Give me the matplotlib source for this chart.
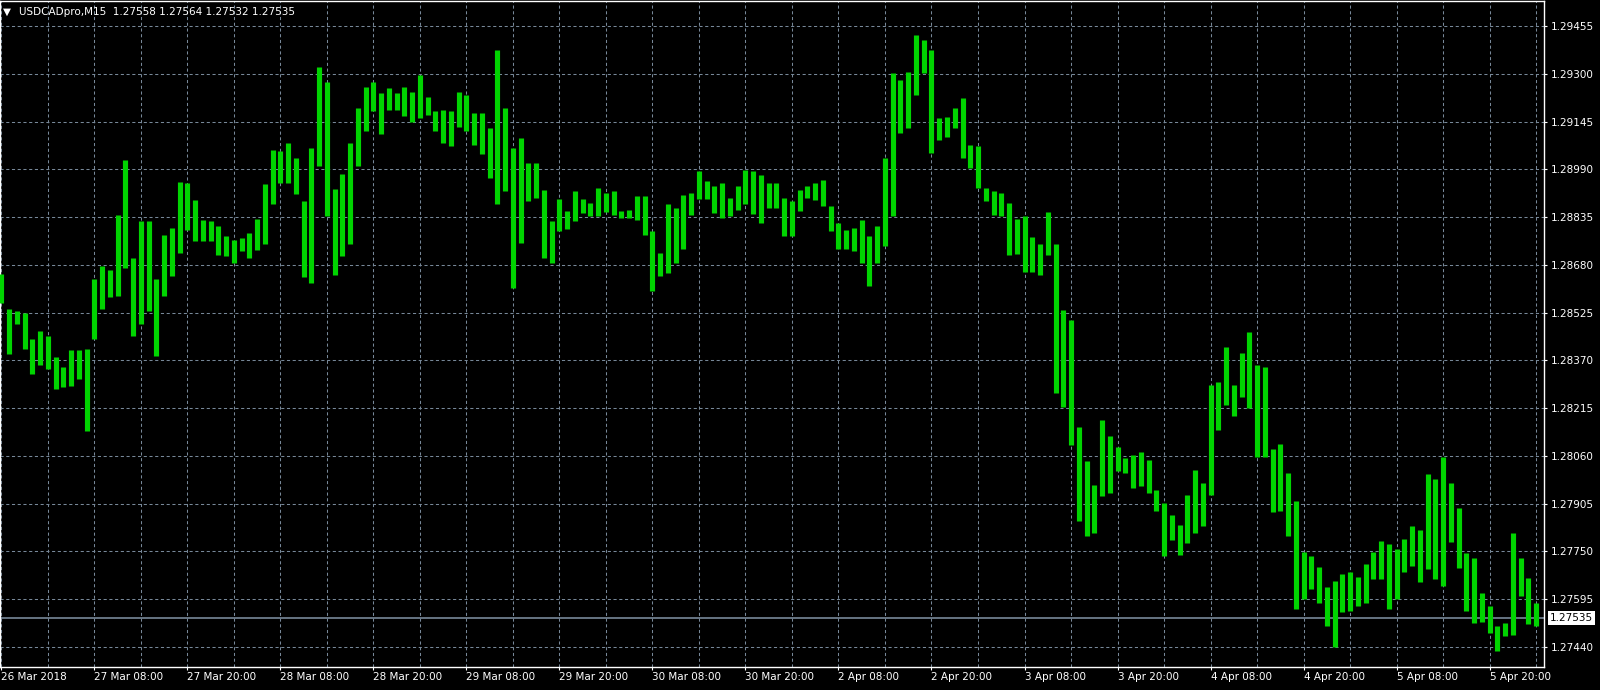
import numpy as np
import matplotlib.pyplot as plt
from matplotlib.transforms import blended_transform_factory


# hourly high / low (one entry per hour, 26 Mar 20:00 -> 5 Apr 22:00)
high = [1.28649, 1.28538, 1.28531, 1.28525, 1.28439, 1.28466, 1.28448, 1.28380, 1.28348, 1.28405,
        1.28405, 1.28407, 1.28633, 1.28676, 1.28663, 1.28843, 1.29020, 1.28703, 1.28821, 1.28821,
        1.28633, 1.28778, 1.28800, 1.28950, 1.28945, 1.28891, 1.28826, 1.28821, 1.28805, 1.28773,
        1.28762, 1.28767, 1.28783, 1.28829, 1.28942, 1.29054, 1.29049, 1.29076, 1.29027, 1.28888,
        1.29060, 1.29323, 1.29274, 1.28926, 1.28974, 1.29076, 1.29188, 1.29258, 1.29274, 1.29237,
        1.29253, 1.29237, 1.29258, 1.29242, 1.29296, 1.29226, 1.29178, 1.29183, 1.29178, 1.29242,
        1.29231, 1.29172, 1.29172, 1.29124, 1.29376, 1.29188, 1.29060, 1.29090, 1.29011, 1.29011,
        1.28924, 1.28822, 1.28892, 1.28854, 1.28919, 1.28892, 1.28881, 1.28930, 1.28913, 1.28919,
        1.28854, 1.28859, 1.28903, 1.28903, 1.28789, 1.28719, 1.28876, 1.28865, 1.28908, 1.28913,
        1.28984, 1.28951, 1.28935, 1.28946, 1.28897, 1.28935, 1.28989, 1.28985, 1.28972, 1.28945,
        1.28945, 1.28897, 1.28886, 1.28924, 1.28935, 1.28945, 1.28956, 1.28870, 1.28816, 1.28794,
        1.28800, 1.28827, 1.28773, 1.28805, 1.29026, 1.29301, 1.29280, 1.29306, 1.29425, 1.29409,
        1.29377, 1.29156, 1.29161, 1.29188, 1.29220, 1.29069, 1.29064, 1.28929, 1.28918, 1.28913,
        1.28881, 1.28830, 1.28840, 1.28770, 1.28749, 1.28851, 1.28749, 1.28533, 1.28500, 1.28155,
        1.28042, 1.27966, 1.28177, 1.28123, 1.28090, 1.28053, 1.28063, 1.28074, 1.28047, 1.27950,
        1.27907, 1.27869, 1.27837, 1.27934, 1.28015, 1.27972, 1.28290, 1.28301, 1.28414, 1.28290,
        1.28393, 1.28463, 1.28355, 1.28347, 1.28082, 1.28098, 1.28006, 1.27915, 1.27747, 1.27736,
        1.27698, 1.27633, 1.27655, 1.27676, 1.27682, 1.27666, 1.27709, 1.27747, 1.27785, 1.27774,
        1.27758, 1.27790, 1.27833, 1.27820, 1.28001, 1.27985, 1.28055, 1.27973, 1.27892, 1.27746,
        1.27729, 1.27616, 1.27572, 1.27507, 1.27518, 1.27811, 1.27729, 1.27664, 1.27583]

low = [1.28557, 1.28391, 1.28488, 1.28407, 1.28326, 1.28355, 1.28342, 1.28278, 1.28283, 1.28288,
       1.28310, 1.28140, 1.28439, 1.28538, 1.28574, 1.28579, 1.28670, 1.28448, 1.28488, 1.28531,
       1.28383, 1.28579, 1.28643, 1.28719, 1.28794, 1.28757, 1.28757, 1.28757, 1.28713, 1.28708,
       1.28687, 1.28724, 1.28703, 1.28727, 1.28748, 1.28877, 1.28947, 1.28947, 1.28909, 1.28641,
       1.28620, 1.29001, 1.28840, 1.28647, 1.28709, 1.28748, 1.29001, 1.29113, 1.29178, 1.29103,
       1.29183, 1.29183, 1.29162, 1.29145, 1.29156, 1.29167, 1.29113, 1.29076, 1.29065, 1.29127,
       1.29113, 1.29070, 1.29038, 1.28963, 1.28877, 1.28920, 1.28606, 1.28751, 1.28886, 1.28897,
       1.28703, 1.28687, 1.28789, 1.28797, 1.28822, 1.28849, 1.28838, 1.28838, 1.28852, 1.28843,
       1.28832, 1.28832, 1.28827, 1.28778, 1.28595, 1.28643, 1.28654, 1.28687, 1.28730, 1.28843,
       1.28892, 1.28892, 1.28849, 1.28832, 1.28838, 1.28859, 1.28876, 1.28845, 1.28816, 1.28864,
       1.28864, 1.28773, 1.28773, 1.28854, 1.28897, 1.28891, 1.28870, 1.28789, 1.28730, 1.28730,
       1.28724, 1.28687, 1.28611, 1.28687, 1.28740, 1.28838, 1.29107, 1.29123, 1.29231, 1.29301,
       1.29042, 1.29085, 1.29096, 1.29123, 1.29026, 1.28994, 1.28929, 1.28886, 1.28843, 1.28838,
       1.28711, 1.28716, 1.28656, 1.28657, 1.28646, 1.28711, 1.28263, 1.28220, 1.28096, 1.27848,
       1.27799, 1.27810, 1.27929, 1.27939, 1.28010, 1.28004, 1.27956, 1.27961, 1.27939, 1.27880,
       1.27734, 1.27788, 1.27740, 1.27778, 1.27810, 1.27832, 1.27934, 1.28144, 1.28225, 1.28188,
       1.28252, 1.28215, 1.28058, 1.28055, 1.27877, 1.27882, 1.27801, 1.27563, 1.27595, 1.27628,
       1.27584, 1.27509, 1.27440, 1.27552, 1.27557, 1.27574, 1.27584, 1.27660, 1.27660, 1.27563,
       1.27595, 1.27682, 1.27704, 1.27650, 1.27693, 1.27660, 1.27639, 1.27780, 1.27695, 1.27556,
       1.27518, 1.27520, 1.27486, 1.27426, 1.27475, 1.27480, 1.27605, 1.27513, 1.27507]

price_levels = [1.27440, 1.27595, 1.27750, 1.27905, 1.28060, 1.28215, 1.28370, 1.28525,
                1.28680, 1.28835, 1.28990, 1.29145, 1.29300, 1.29455]

date_labels = ['26 Mar 2018', '27 Mar 08:00', '27 Mar 20:00', '28 Mar 08:00', '28 Mar 20:00',
               '29 Mar 08:00', '29 Mar 20:00', '30 Mar 08:00', '30 Mar 20:00', '2 Apr 08:00',
               '2 Apr 20:00', '3 Apr 08:00', '3 Apr 20:00', '4 Apr 08:00', '4 Apr 20:00',
               '5 Apr 08:00', '5 Apr 20:00']

symbol = 'USDCADpro,M15'
last_ohlc = [1.27558, 1.27564, 1.27532, 1.27535]
last_price = 1.27535

fg = 'white'
grid_col = '#778899'
bar_col = '#00d400'

fig = plt.figure(figsize=(16, 6.9), dpi=100, facecolor='black')
ax = fig.add_axes([0.0, 23 / 690, 1544 / 1600, 666 / 690])
ax.set_facecolor('black')

x = np.arange(len(high))
ax.vlines(x, low, high, color=bar_col, lw=3.7, zorder=3)

# bid line
ax.axhline(last_price, color=grid_col, lw=1.2, zorder=2)

ax.set_xlim(-0.19, 199.03)
ax.set_ylim(1.27375, 1.29536)

# y axis on the right like MT4
ax.yaxis.tick_right()
ax.set_yticks(price_levels)
ax.set_yticklabels(['%.5f' % p for p in price_levels])

ax.set_xticks(np.arange(0, 12 * len(date_labels), 12))
ax.set_xticklabels(date_labels, ha='left')
ax.set_xticks(np.arange(0, 200, 6), minor=True)

ax.tick_params(axis='both', which='major', colors=fg, labelcolor=fg, labelsize=7.5,
               length=2.2, width=0.8, direction='out')
ax.tick_params(axis='x', which='major', pad=1.2)
ax.tick_params(axis='y', which='major', pad=2.5)
ax.tick_params(axis='x', which='minor', length=0)

ax.grid(True, which='both', axis='x', color=grid_col, lw=0.75, linestyle=(0, (3, 2.5)), zorder=1)
ax.grid(True, which='major', axis='y', color=grid_col, lw=0.75, linestyle=(0, (3, 2.5)), zorder=1)
ax.set_axisbelow(True)

for s in ax.spines.values():
    s.set_color(fg)
    s.set_linewidth(1.0)

# price box at the right edge
tr = blended_transform_factory(ax.transAxes, ax.transData)
ax.text(1.0 + 6 / 1544, last_price, '%.5f' % last_price, transform=tr, ha='left', va='center',
        fontsize=7.5, color='black', clip_on=False,
        bbox=dict(facecolor='white', edgecolor='none', pad=1.6))

# header
fig.text(3 / 1600, 1 - 12 / 690, '\u25bc', color=fg, fontsize=7.5, va='center', ha='left')
fig.text(19 / 1600, 1 - 12 / 690, symbol + '  ' + ' '.join('%.5f' % v for v in last_ohlc),
         color=fg, fontsize=7.5, va='center', ha='left')

plt.savefig('out.png', dpi=100, facecolor='black')
